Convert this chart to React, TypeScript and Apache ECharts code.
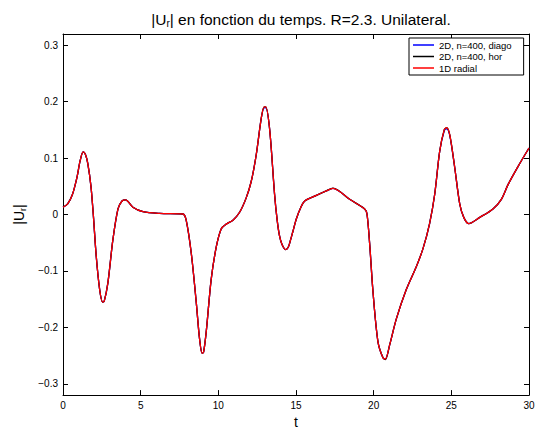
import React, { useEffect, useRef } from "react";
import * as echarts from "echarts";

const tValues = [0, 0.3, 0.6, 0.9, 1.1, 1.3, 1.45, 1.6, 1.8, 1.95, 2.14, 2.36, 2.55, 2.65, 2.89, 3.21, 3.54, 3.8, 4.03, 4.5, 5.15, 6.22, 7.72, 7.93, 8.26, 8.58, 8.79, 8.96, 9.05, 9.22, 9.54, 9.87, 10.19, 10.51, 10.94, 11.37, 11.8, 12.12, 12.44, 12.76, 12.95, 13.05, 13.3, 13.62, 13.78, 13.94, 14.1, 14.33, 14.5, 14.65, 14.8, 15.02, 15.3, 15.56, 16.31, 16.95, 17.38, 18.45, 19.42, 19.57, 19.74, 19.96, 20.28, 20.6, 20.75, 21.03, 21.46, 22.1, 22.75, 23.18, 23.6, 23.93, 24.25, 24.55, 24.7, 24.9, 25.22, 25.54, 25.8, 26.12, 26.83, 27.68, 28.22, 28.65, 29.29, 30];
const diagoValues = [0.013, 0.019, 0.035, 0.066, 0.095, 0.111, 0.106, 0.09, 0.05, 0.0, -0.074, -0.133, -0.155, -0.154, -0.121, -0.045, 0.01, 0.024, 0.026, 0.013, 0.005, 0.002, 0.001, -0.01, -0.069, -0.156, -0.22, -0.246, -0.244, -0.208, -0.115, -0.057, -0.025, -0.017, -0.01, 0.004, 0.03, 0.059, 0.106, 0.17, 0.189, 0.189, 0.152, 0.036, -0.008, -0.038, -0.053, -0.062, -0.058, -0.045, -0.03, -0.008, 0.012, 0.024, 0.034, 0.042, 0.0465, 0.027, 0.01, 0.001, -0.051, -0.138, -0.226, -0.254, -0.256, -0.231, -0.185, -0.133, -0.092, -0.06, -0.016, 0.036, 0.112, 0.149, 0.152, 0.14, 0.083, 0.019, -0.005, -0.016, -0.005, 0.01, 0.027, 0.053, 0.085, 0.118];
const horValues = [0.013, 0.019, 0.035, 0.066, 0.095, 0.111, 0.106, 0.09, 0.05, 0.0, -0.074, -0.133, -0.155, -0.154, -0.121, -0.045, 0.01, 0.024, 0.026, 0.013, 0.005, 0.002, 0.001, -0.01, -0.069, -0.156, -0.22, -0.246, -0.244, -0.208, -0.115, -0.057, -0.025, -0.017, -0.01, 0.004, 0.03, 0.059, 0.106, 0.17, 0.191, 0.191, 0.152, 0.036, -0.008, -0.038, -0.053, -0.062, -0.058, -0.045, -0.03, -0.008, 0.012, 0.024, 0.034, 0.042, 0.047, 0.027, 0.01, 0.001, -0.051, -0.138, -0.226, -0.254, -0.257, -0.231, -0.185, -0.133, -0.092, -0.06, -0.016, 0.036, 0.112, 0.151, 0.154, 0.141, 0.083, 0.019, -0.005, -0.016, -0.005, 0.01, 0.027, 0.053, 0.085, 0.118];
const radialValues = [0.013, 0.019, 0.035, 0.066, 0.095, 0.111, 0.106, 0.09, 0.05, 0.0, -0.074, -0.133, -0.155, -0.154, -0.121, -0.045, 0.01, 0.024, 0.026, 0.013, 0.005, 0.002, 0.001, -0.01, -0.069, -0.156, -0.22, -0.246, -0.244, -0.208, -0.115, -0.057, -0.025, -0.017, -0.01, 0.004, 0.03, 0.059, 0.106, 0.17, 0.191, 0.191, 0.152, 0.036, -0.008, -0.038, -0.053, -0.062, -0.058, -0.045, -0.03, -0.008, 0.012, 0.024, 0.034, 0.042, 0.0465, 0.027, 0.01, 0.001, -0.051, -0.138, -0.226, -0.254, -0.256, -0.231, -0.185, -0.133, -0.092, -0.06, -0.016, 0.036, 0.112, 0.151, 0.154, 0.141, 0.083, 0.019, -0.005, -0.016, -0.005, 0.01, 0.027, 0.053, 0.085, 0.118];

const seriesNames = ["2D, n=400, diago", "2D, n=400, hor", "1D radial"];
const seriesColors = ["#0000ff", "#000000", "#ff0000"];
const yTicks = [-0.3, -0.2, -0.1, 0, 0.1, 0.2, 0.3];

const FONT = "'Liberation Sans', Arial, Helvetica, sans-serif";

export default function App() {
  const ref = useRef<HTMLDivElement>(null);
  useEffect(() => {
    if (!ref.current) return;
    const chart = echarts.init(ref.current, null, { renderer: "svg" });
    const pair = (vals: number[]) => tValues.map((t, i) => [t, vals[i]]);
    const all = [diagoValues, horValues, radialValues];
    const fmtY = (v: number) => {
      const s = Math.abs(v) < 1e-9 ? "0" : String(Math.round(v * 10) / 10);
      return s.replace("-", "\u2212");
    };
    const tickStyle = { show: true, inside: true, length: 5, lineStyle: { color: "#000", width: 1 } };
    const lineStyleAxis = { show: true, onZero: false, lineStyle: { color: "#000", width: 1 } };
    chart.setOption({
      animation: false,
      backgroundColor: "#fff",
      textStyle: { fontFamily: FONT },
      title: {
        text: "|U{s|r}| en fonction du temps. R=2.3. Unilateral.",
        left: 296,
        top: 5,
        textAlign: "center",
        textStyle: {
          fontFamily: FONT,
          fontSize: 15.5,
          fontWeight: "normal",
          color: "#000",
          rich: { s: { fontSize: 10, fontFamily: FONT, color: "#000", padding: [8, 0, 0, 0] } },
        },
      },
      legend: {
        data: seriesNames,
        orient: "vertical",
        left: 409,
        top: 38,
        icon: "rect",
        itemWidth: 21,
        itemHeight: 1.5,
        itemGap: 1.5,
        padding: [2, 12, 2, 4],
        borderColor: "#000",
        borderWidth: 1,
        backgroundColor: "#fff",
        textStyle: { fontSize: 9.5, fontFamily: FONT, color: "#000" },
      },
      grid: { left: 63, right: 11, top: 34, bottom: 33, containLabel: false },
      xAxis: [
        {
          type: "value",
          min: 0,
          max: 30,
          interval: 5,
          position: "bottom",
          name: "t",
          nameLocation: "middle",
          nameGap: 19,
          nameTextStyle: { fontSize: 14, fontFamily: FONT, color: "#000" },
          axisLine: lineStyleAxis,
          axisTick: tickStyle,
          axisLabel: { fontSize: 10, color: "#000", margin: 5, fontFamily: FONT },
          splitLine: { show: false },
        },
        {
          type: "value",
          min: 0,
          max: 30,
          interval: 5,
          position: "top",
          axisLine: lineStyleAxis,
          axisTick: tickStyle,
          axisLabel: { show: false },
          splitLine: { show: false },
        },
      ],
      yAxis: [
        {
          type: "value",
          min: -0.32,
          max: 0.32,
          position: "left",
          name: "|U{s|r}|",
          nameLocation: "middle",
          nameGap: 32,
          nameRotate: 90,
          nameTextStyle: {
            fontSize: 14,
            fontFamily: FONT,
            color: "#000",
            rich: { s: { fontSize: 9, fontFamily: FONT, color: "#000", padding: [8, 0, 0, 0] } },
          },
          axisLine: lineStyleAxis,
          axisTick: { ...tickStyle, customValues: yTicks },
          axisLabel: { fontSize: 10, color: "#000", margin: 5, fontFamily: FONT, customValues: yTicks, formatter: fmtY },
          splitLine: { show: false },
        },
        {
          type: "value",
          min: -0.32,
          max: 0.32,
          position: "right",
          axisLine: lineStyleAxis,
          axisTick: { ...tickStyle, customValues: yTicks },
          axisLabel: { show: false, customValues: yTicks },
          splitLine: { show: false },
        },
      ],
      series: seriesNames.map((name, i) => ({
        name,
        type: "line",
        xAxisIndex: 0,
        yAxisIndex: 0,
        data: pair(all[i]),
        smooth: 0.3,
        showSymbol: false,
        symbol: "none",
        lineStyle: { color: seriesColors[i], width: 1.3 },
        itemStyle: { color: seriesColors[i] },
        z: 2 + i,
      })),
    });
    return () => chart.dispose();
  }, []);
  return <div ref={ref} style={{ width: 540, height: 434, position: "absolute", left: 0, top: 0 }} />;
}
